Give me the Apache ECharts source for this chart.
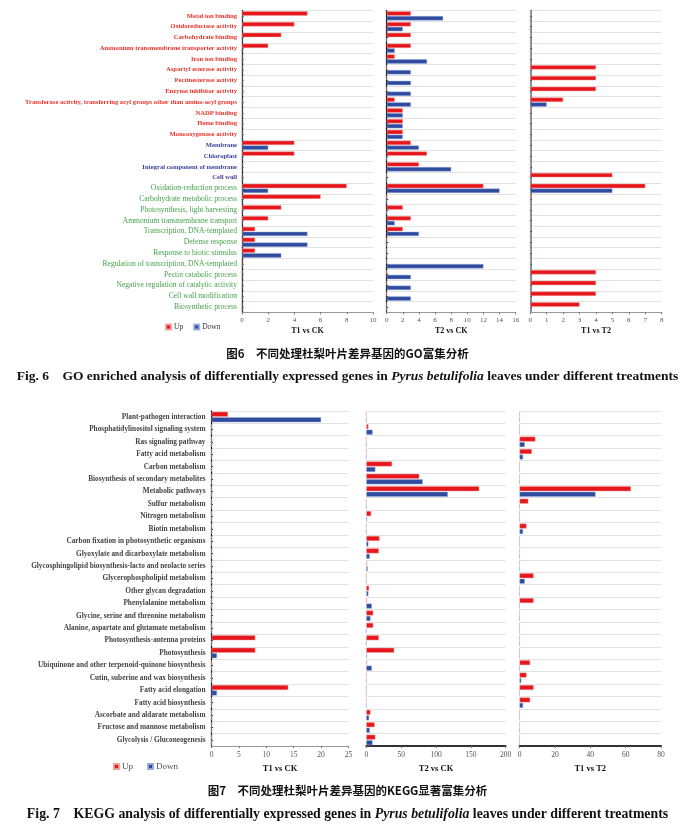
<!DOCTYPE html>
<html><head><meta charset="utf-8">
<script src="https://cdn.jsdelivr.net/npm/echarts@6/dist/echarts.min.js"></script>
<style>html,body{margin:0;padding:0;background:#fff}#c{width:695px;height:833px}</style>
</head><body><div id="c"></div>
<script>
// ---------- GO (Fig. 6) ----------
const goCategories = [
  'Metal ion binding','Oxidoreductase activity','Carbohydrate binding',
  'Ammonium transmembrane transporter activity','Iron ion binding','Aspartyl esterase activity',
  'Pectinesterase activity','Enzyme inhibitor activity',
  'Transferase activity, transferring acyl groups other than amino-acyl groups',
  'NADP binding','Heme binding','Monooxygenase activity',
  'Membrane','Chloroplast','Integral component of membrane','Cell wall',
  'Oxidation-reduction process','Carbohydrate metabolic process','Photosynthesis, light harvesting',
  'Ammonium transmembrane transport','Transcription, DNA-templated','Defense response',
  'Response to biotic stimulus','Regulation of transcription, DNA-templated','Pectin catabolic process',
  'Negative regulation of catalytic activity','Cell wall modification','Biosynthetic process'
];
const goGroups = ['MF','MF','MF','MF','MF','MF','MF','MF','MF','MF','MF','MF',
  'CC','CC','CC','CC',
  'BP','BP','BP','BP','BP','BP','BP','BP','BP','BP','BP','BP'];
const goT1CKUp   = [5,4,3,2,0,0,0,0,0,0,0,0,4,4,0,0,8,6,3,2,1,1,1,0,0,0,0,0];
const goT1CKDown = [0,0,0,0,0,0,0,0,0,0,0,0,2,0,0,0,2,0,0,0,5,5,3,0,0,0,0,0];
const goT2CKUp   = [3,3,3,3,1,0,0,0,1,2,2,2,3,5,4,0,12,0,2,3,2,0,0,0,0,0,0,0];
const goT2CKDown = [7,2,0,1,5,3,3,3,3,2,2,2,4,0,8,0,14,0,0,1,4,0,0,12,3,3,3,0];
const goT1T2Up   = [0,0,0,0,0,4,4,4,2,0,0,0,0,0,0,5,7,0,0,0,0,0,0,0,4,4,4,3];
const goT1T2Down = [0,0,0,0,0,0,0,0,1,0,0,0,0,0,0,0,5,0,0,0,0,0,0,0,0,0,0,0];
const goPanelNames = ['T1 vs CK','T2 vs CK','T1 vs T2'];
const goAxisMax = [10,16,8];
const goAxisInterval = [2,2,1];

// ---------- KEGG (Fig. 7) ----------
const keggCategories = [
  'Plant-pathogen interaction','Phosphatidylinositol signaling system','Ras signaling pathway',
  'Fatty acid metabolism','Carbon metabolism','Biosynthesis of secondary metabolites',
  'Metabolic pathways','Sulfur metabolism','Nitrogen metabolism','Biotin metabolism',
  'Carbon fixation in photosynthetic organisms','Glyoxylate and dicarboxylate metabolism',
  'Glycosphingolipid biosynthesis-lacto and neolacto series','Glycerophospholipid metabolism',
  'Other glycan degradation','Phenylalanine metabolism','Glycine, serine and threonine metabolism',
  'Alanine, aspartate and glutamate metabolism','Photosynthesis-antenna proteins','Photosynthesis',
  'Ubiquinone and other terpenoid-quinone biosynthesis','Cutin, suberine and wax biosynthesis',
  'Fatty acid elongation','Fatty acid biosynthesis','Ascorbate and aldarate metabolism',
  'Fructose and mannose metabolism','Glycolysis / Gluconeogenesis'
];
const keggT1CKUp   = [3,0,0,0,0,0,0,0,0,0,0,0,0,0,0,0,0,0,8,8,0,0,14,0,0,0,0];
const keggT1CKDown = [20,0,0,0,0,0,0,0,0,0,0,0,0,0,0,0,0,0,0,1,0,0,1,0,0,0,0];
const keggT2CKUp   = [0,3,0,0,37,76,162,0,7,0,19,18,1,0,4,1,10,10,18,40,1,0,0,0,6,12,13];
const keggT2CKDown = [0,9,0,0,13,81,117,0,1,0,3,5,2,0,3,8,6,0,0,1,8,0,0,0,4,5,9];
const keggT1T2Up   = [0,0,9,7,0,0,63,5,0,4,0,0,0,8,0,8,0,0,0,0,6,4,8,6,0,0,0];
const keggT1T2Down = [0,0,3,2,0,0,43,0,0,2,0,0,0,3,0,0,0,0,0,0,0,1,0,2,0,0,0];
const keggPanelNames = ['T1 vs CK','T2 vs CK','T1 vs T2'];
const keggAxisMax = [25,200,80];
const keggAxisInterval = [5,50,20];

const legendNames = ['Up','Down'];

// ---------- styling ----------
const SERIF = '"Liberation Serif","Times New Roman",serif';
const CJK = '"Noto Sans CJK SC",sans-serif';
const RED = '#e5171d', BLUE = '#2f4b9e';
const groupStyle = {
  MF: {color:'#e8332b', fontWeight:'bold', fontSize:6.6},
  CC: {color:'#3b3f9c', fontWeight:'bold', fontSize:6.6},
  BP: {color:'#45a24a', fontWeight:'normal', fontSize:7.6}
};

const grids = [], xAxes = [], yAxes = [], series = [];
function addPanel(rect, catData, up, down, max, interval, name, o) {
  const i = grids.length;
  grids.push({left:rect[0], top:rect[1], width:rect[2], height:rect[3]});
  xAxes.push({
    gridIndex:i, type:'value', min:0, max:max, interval:interval,
    name:name, nameLocation:'middle', nameGap:o.nameGap,
    nameTextStyle:{fontFamily:SERIF, fontWeight:'bold', fontSize:o.nameSize, color:'#111'},
    axisLine:{show:true, lineStyle:{color:o.xLineColor, width:o.xLineWidth}},
    axisTick:{show:true, length:2, lineStyle:{color:'#777'}},
    axisLabel:{fontFamily:SERIF, fontSize:o.tickSize, color:'#555', margin:o.tickMargin},
    splitLine:{show:false}
  });
  yAxes.push({
    gridIndex:i, type:'category', inverse:true, data:catData,
    axisLine:{show:o.yLine, lineStyle:{color:o.yLineColor, width:o.yLineWidth}},
    axisTick:{show:o.yTick, alignWithLabel:true, inside:true, length:1.5, interval:0, lineStyle:{color:'#333'}},
    axisLabel:{show:o.showLabels, interval:0, margin:o.labelMargin, fontFamily:SERIF,
      fontSize:o.labelSize, fontWeight:'bold', color:'#444'},
    splitLine:{show:true, interval:0, lineStyle:{color:'#e2e2e2', width:1}}
  });
  series.push({type:'bar', name:legendNames[0], xAxisIndex:i, yAxisIndex:i, data:up,
    barWidth:o.barWidth, barGap:'10%',
    itemStyle:{color:RED, borderColor:'rgba(245,160,150,0.9)', borderWidth:0.5}, silent:true});
  series.push({type:'bar', name:legendNames[1], xAxisIndex:i, yAxisIndex:i, data:down,
    barWidth:o.barWidth, barGap:'10%',
    itemStyle:{color:BLUE, borderColor:'rgba(150,170,225,0.9)', borderWidth:0.5}, silent:true});
}

const goCatData = goCategories.map((c, k) => ({value:c, textStyle:groupStyle[goGroups[k]]}));
const goRowH = 10.78, goTop = 10.5, goH = goRowH * goCategories.length;
const goLefts = [242, 386.7, 530.3], goWidths = [131, 129, 131.4];
const goUp = [goT1CKUp, goT2CKUp, goT1T2Up], goDown = [goT1CKDown, goT2CKDown, goT1T2Down];
for (let p = 0; p < 3; p++) {
  addPanel([goLefts[p], goTop, goWidths[p], goH], p === 0 ? goCatData : goCategories,
    goUp[p], goDown[p], goAxisMax[p], goAxisInterval[p], goPanelNames[p], {
      nameGap:15, nameSize:8, tickSize:7, tickMargin:4,
      xLineColor:'#999', xLineWidth:1,
      yLine:true, yLineColor: p === 2 ? '#8a8a8a' : '#111', yLineWidth: p === 2 ? 2 : 1.2,
      yTick:true, showLabels: p === 0, labelMargin:5, labelSize:6.6, barWidth:4.4
    });
}

const kgRowH = 12.42, kgTop = 410.8, kgH = kgRowH * keggCategories.length;
const kgLefts = [211.5, 366.3, 519.5], kgWidths = [137, 139.4, 141.5];
const kgUp = [keggT1CKUp, keggT2CKUp, keggT1T2Up], kgDown = [keggT1CKDown, keggT2CKDown, keggT1T2Down];
for (let p = 0; p < 3; p++) {
  addPanel([kgLefts[p], kgTop, kgWidths[p], kgH], keggCategories,
    kgUp[p], kgDown[p], keggAxisMax[p], keggAxisInterval[p], keggPanelNames[p], {
      nameGap:18, nameSize:8.5, tickSize:7.5, tickMargin:5,
      xLineColor: p === 0 ? '#999' : '#333', xLineWidth: p === 0 ? 1 : 2,
      yLine: p === 0, yLineColor:'#111', yLineWidth:1.2,
      yTick: p === 0, showLabels: p === 0, labelMargin:6, labelSize:7.3, barWidth:5
    });
}

const capRich = (s) => ({
  b:{fontFamily:SERIF, fontWeight:'bold', fontSize:s, fill:'#111'},
  i:{fontFamily:SERIF, fontWeight:'bold', fontStyle:'italic', fontSize:s, fill:'#111'}
});

const chart = echarts.init(document.getElementById('c'), null, {renderer:'canvas'});
chart.setOption({
  animation:false,
  backgroundColor:'#fff',
  grid:grids, xAxis:xAxes, yAxis:yAxes, series:series,
  legend:[
    {data:legendNames, left:160, top:318, icon:'rect', itemWidth:5, itemHeight:5, itemGap:10,
     textStyle:{fontFamily:SERIF, fontSize:7.5, color:'#333', padding:[0,0,0,-2]}, selectedMode:false},
    {data:legendNames, left:108, top:757, icon:'rect', itemWidth:5, itemHeight:5, itemGap:14,
     textStyle:{fontFamily:SERIF, fontSize:9, color:'#555', padding:[0,0,0,-2]}, selectedMode:false}
  ],
  graphic:[
    {type:'text', left:'center', top:348, style:{text:'图6　不同处理杜梨叶片差异基因的GO富集分析',
      font:'bold 11.5px ' + CJK, fill:'#111'}},
    {type:'text', left:'center', top:370, style:{
      text:'{b|Fig. 6    GO enriched analysis of differentially expressed genes in }{i|Pyrus betulifolia}{b| leaves under different treatments}',
      rich:capRich(13.5)}},
    {type:'text', left:'center', top:785, style:{text:'图7　不同处理杜梨叶片差异基因的KEGG显著富集分析',
      font:'bold 11.5px ' + CJK, fill:'#111'}},
    {type:'text', left:'center', top:807, style:{
      text:'{b|Fig. 7    KEGG analysis of differentially expressed genes in }{i|Pyrus betulifolia}{b| leaves under different treatments}',
      rich:capRich(13.8)}}
  ]
});
</script></body></html>
